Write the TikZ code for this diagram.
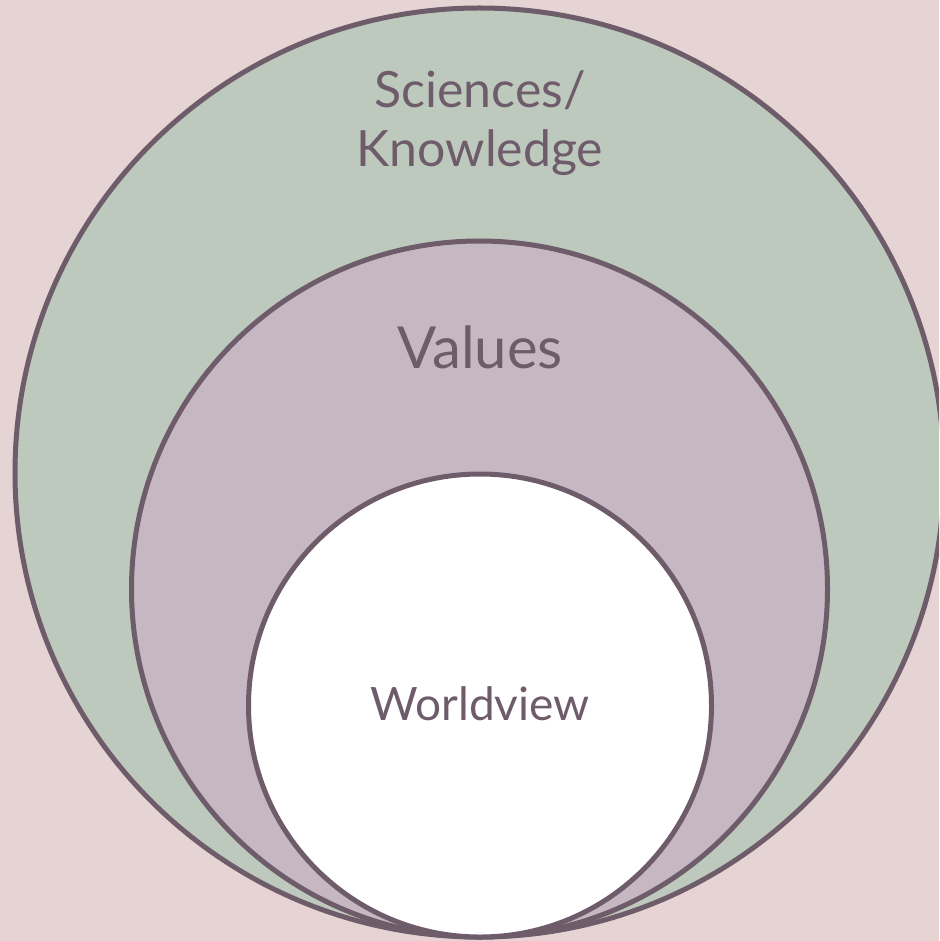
\documentclass[tikz,border=0pt]{standalone}
\usepackage{fontspec}
\setmainfont{Lato}
\definecolor{bgc}{HTML}{E6D3D3}
\definecolor{ringc}{HTML}{6E5C6A}
\definecolor{outerc}{HTML}{BEC9BE}
\definecolor{midc}{HTML}{C6B8C3}
\tikzset{ring/.style={draw=ringc,line width=5pt},
  lbl/.style={text=ringc,align=center,inner sep=0pt}}
\begin{document}
\begin{tikzpicture}[x=1pt,y=-1pt]
\fill[bgc] (0,0) rectangle (939,941);
\useasboundingbox (0,0) rectangle (939,941);
\begin{scope}
\clip (0,0) rectangle (939,941);
\path[ring,fill=outerc] (479.5,472.5) circle[radius=464.5];
\path[ring,fill=midc] (479.5,589) circle[radius=348];
\path[ring,fill=white] (480,705.5) circle[radius=231.5];
\end{scope}
\node[lbl,font=\fontsize{50}{59}\selectfont] (sk) at (480,123) {Sciences/\\Knowledge};
\node[lbl,font=\fontsize{58}{60}\selectfont] (val) at (480,347) {Values};
\node[lbl,font=\fontsize{46}{48}\selectfont] (wv) at (480,704) {Worldview};
\end{tikzpicture}
\end{document}
